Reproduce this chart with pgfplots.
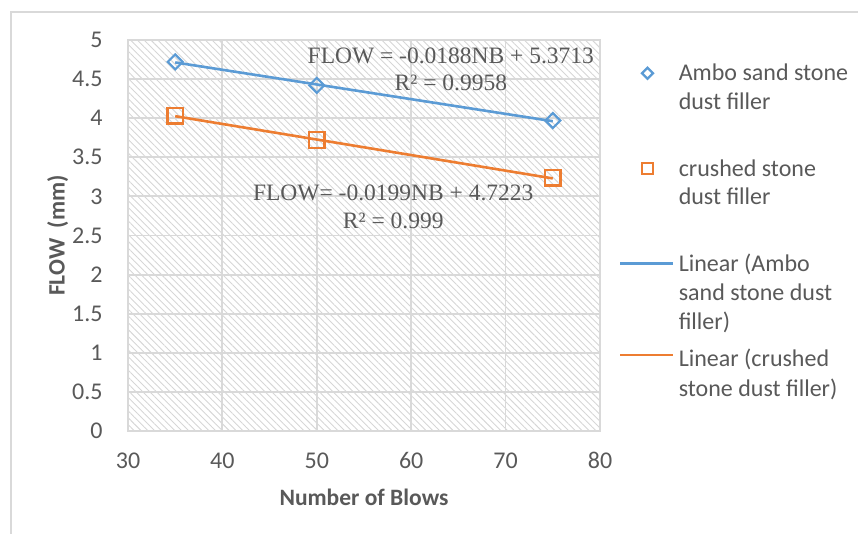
\documentclass[border=0pt]{standalone}
\usepackage{pgfplots}
\pgfplotsset{compat=1.18}
\usepackage{fontspec}
\setmainfont{Carlito}
\newfontfamily\eqfont{Liberation Serif}
\usetikzlibrary{patterns.meta}
\definecolor{ambo}{HTML}{5B9BD5}
\definecolor{crushed}{HTML}{ED7D31}
\definecolor{txt}{HTML}{595959}
\definecolor{gridc}{HTML}{D9D9D9}
\definecolor{hatch}{HTML}{D6D6D6}
\pgfplotsset{
    markleg/.style={legend image code/.code={\draw[##1, mark size=#1] plot coordinates {(27bp,0bp)};}},
    lineleg/.style={legend image code/.code={\draw[##1] (0bp,0bp) -- (53bp,0bp);}},
}
\begin{document}
\begin{tikzpicture}
\path[use as bounding box] (-128bp,-103bp) rectangle (730bp,431bp);
\draw[gridc, line width=1.2bp] (-117bp,-103bp) -- (-117bp,419bp) -- (730bp,419bp);
\begin{axis}[
    scale only axis,
    width=472bp, height=391bp,
    xmin=30, xmax=80, ymin=0, ymax=5,
    xtick={30,40,...,80},
    ytick={0,0.5,...,5},
    yticklabel style={/pgf/number format/fixed},
    /pgf/number format/assume math mode=true,
    tick style={draw=none},
    ticklabel style={font=\fontsize{24bp}{28bp}\selectfont, text=txt},
    xticklabel style={yshift=-18bp},
    yticklabel style={xshift=-22bp},
    grid=major,
    major grid style={gridc, line width=1.8bp},
    axis line style={gridc, line width=1.8bp},
    axis background/.style={pattern={Lines[angle=-45, distance=4.8bp, line width=0.9bp]}, pattern color=hatch},
    xlabel={Number of Blows},
    ylabel={FLOW~~(mm)},
    label style={font=\bfseries\fontsize{23.5bp}{28bp}\selectfont, text=txt},
    xlabel style={yshift=-13bp},
    ylabel style={yshift=-3bp},
    legend style={at={(1,1)}, anchor=north west, xshift=16bp, yshift=-20bp,
        draw=none, fill=none, font=\fontsize{24bp}{28bp}\selectfont,
        text=txt, row sep=6.5bp, column sep=2bp},
    legend cell align=left,
    clip=false,
]
\addplot[markleg=3.9bp, only marks, mark=square, mark size=5.3bp, ambo, line width=2.2bp,
    mark options={solid, fill=none, rotate=45}]
    coordinates {(35,4.72) (50,4.42) (75,3.97)};
\addlegendentry{Ambo sand stone}
\addlegendimage{empty legend}\addlegendentry{dust filler}
\addlegendimage{empty legend}\addlegendentry{\rule{0pt}{26bp}}
\addplot[markleg=5.3bp, only marks, mark=square, mark size=7.8bp, crushed, line width=2.4bp,
    mark options={solid, fill=none}]
    coordinates {(35,4.03) (50,3.72) (75,3.24)};
\addlegendentry{crushed stone}
\addlegendimage{empty legend}\addlegendentry{dust filler}
\addlegendimage{empty legend}\addlegendentry{\rule{0pt}{25.5bp}}
\addplot[lineleg, ambo, line width=2.6bp, no marks]
    coordinates {(35,4.7133) (75,3.9613)};
\addlegendentry{Linear (Ambo}
\addlegendimage{empty legend}\addlegendentry{sand stone dust}
\addlegendimage{empty legend}\addlegendentry{filler)}
\addplot[lineleg, crushed, line width=2.6bp, no marks]
    coordinates {(35,4.0258) (75,3.2298)};
\addlegendentry{\rule{0pt}{25bp}Linear (crushed}
\addlegendimage{empty legend}\addlegendentry{stone dust filler)}
\node[align=center, text=txt, font=\eqfont\fontsize{23.5bp}{27bp}\selectfont]
    at (axis cs:64.2,4.62) {FLOW = -0.0188NB + 5.3713\\R² = 0.9958};
\node[align=center, text=txt, font=\eqfont\fontsize{23.5bp}{28bp}\selectfont]
    at (axis cs:58.1,2.87) {FLOW= -0.0199NB + 4.7223\\R² = 0.999};
\end{axis}
\end{tikzpicture}
\end{document}
